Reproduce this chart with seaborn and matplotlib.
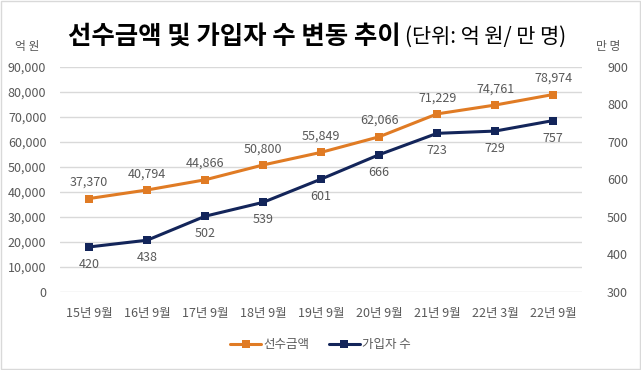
import matplotlib
matplotlib.use("Agg")
import matplotlib.pyplot as plt
import seaborn as sns
import pandas as pd
from matplotlib.ticker import FuncFormatter, MultipleLocator

# --- data ---
periods = ["15년 9월", "16년 9월", "17년 9월", "18년 9월", "19년 9월",
           "20년 9월", "21년 9월", "22년 3월", "22년 9월"]
prepaid = [37370, 40794, 44866, 50800, 55849, 62066, 71229, 74761, 78974]
members = [420, 438, 502, 539, 601, 666, 723, 729, 757]

ORANGE = "#E07B24"
NAVY = "#13255A"
GREY = "#595959"

sns.set_theme(style="white")
plt.rcParams["font.family"] = ["Noto Sans CJK KR", "DejaVu Sans"]

df = pd.DataFrame({"x": range(len(periods)), "prepaid": prepaid, "members": members})

fig = plt.figure(figsize=(6.41, 3.70), dpi=100)
ax = fig.add_axes([0.094, 0.211, 0.814, 0.608])
ax2 = ax.twinx()

sns.lineplot(data=df, x="x", y="prepaid", ax=ax, color=ORANGE, linewidth=2.2,
             marker="s", markersize=6, markeredgewidth=0, label="선수금액", legend=False)
sns.lineplot(data=df, x="x", y="members", ax=ax2, color=NAVY, linewidth=2.2,
             marker="s", markersize=6, markeredgewidth=0, label="가입자 수", legend=False)

ax.set_xlim(-0.5, len(periods) - 0.5)
ax.set_ylim(0, 90000)
ax2.set_ylim(300, 900)
ax.yaxis.set_major_locator(MultipleLocator(10000))
ax2.yaxis.set_major_locator(MultipleLocator(100))
ax.yaxis.set_major_formatter(FuncFormatter(lambda v, p: f"{int(v):,}"))
ax.set_xticks(range(len(periods)))
ax.set_xticklabels(periods)

for a in (ax, ax2):
    for s in a.spines.values():
        s.set_visible(False)
    a.tick_params(length=0, colors=GREY, labelsize=9)
    a.set_xlabel("")
    a.set_ylabel("")
ax.tick_params(axis="y", pad=10)
ax2.tick_params(axis="y", pad=18)
ax.tick_params(axis="x", pad=11)
ax.grid(axis="y", color="#D9D9D9", linewidth=1)
ax.set_axisbelow(True)

for i, v in enumerate(prepaid):
    ax.annotate(f"{v:,}", (i, v), xytext=(0, 7), textcoords="offset points",
                ha="center", va="bottom", fontsize=9, color=GREY)
for i, v in enumerate(members):
    ax2.annotate(f"{v}", (i, v), xytext=(0, -8), textcoords="offset points",
                 ha="center", va="top", fontsize=9, color=GREY)

fig.text(0.106, 0.903, "선수금액 및 가입자 수 변동 추이", ha="left", va="center",
         fontsize=18.3, fontweight="bold", color="black")
fig.text(0.632, 0.900, "(단위: 억 원/ 만 명)", ha="left", va="center",
         fontsize=15, fontweight="medium", color="black")
fig.text(0.023, 0.873, "억 원", fontsize=8.5, color=GREY, va="center")
fig.text(0.93, 0.873, "만 명", fontsize=8.5, color=GREY, va="center")

h1, l1 = ax.get_legend_handles_labels()
h2, l2 = ax2.get_legend_handles_labels()
fig.legend(h1 + h2, l1 + l2, loc="center", bbox_to_anchor=(0.5, 0.068), ncol=2,
           frameon=False, fontsize=9, labelcolor=GREY, handlelength=2.5,
           columnspacing=1.5, handletextpad=0.2)

fig.patches.append(plt.Rectangle((0.002, 0.003), 0.996, 0.994, transform=fig.transFigure,
                                 fill=False, edgecolor="#D9D9D9", linewidth=1))
fig.savefig("out.png", dpi=100)
